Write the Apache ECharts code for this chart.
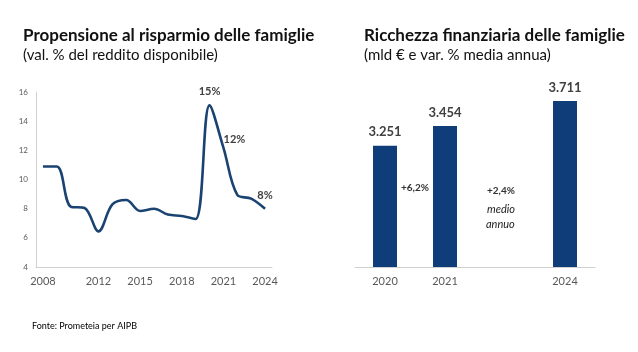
<!DOCTYPE html>
<html>
<head>
<meta charset="utf-8">
<script src="https://cdn.jsdelivr.net/npm/echarts@6/dist/echarts.min.js"></script>
<style>
html,body{margin:0;padding:0;background:#fff;}
#c{width:638px;height:352px;}
</style>
</head>
<body>
<div id="c"></div>
<script>
// Left chart: Propensione al risparmio (val. % del reddito disponibile)
var lineYears = ['2008','2009','2010','2011','2012','2013','2014','2015','2016','2017','2018','2019','2020','2021','2022','2023','2024'];
var lineValues = [10.9, 10.9, 8.15, 8.05, 6.45, 8.3, 8.6, 7.85, 8.0, 7.6, 7.5, 7.3, 15.1, 12.2, 8.95, 8.7, 8.0];
var lineShownYears = ['2008','2012','2015','2018','2021','2024'];
var lineLabels = {'2020':'15%','2021':'12%','2024':'8%'};
var lineYTicks = [4, 6, 8, 10, 12, 14, 16];

// Right chart: Ricchezza finanziaria (mld €)
var barYears = ['2020','2021','','2024'];
var barValues = [3251, 3454, null, 3711];
var barNotes = ['+6,2%', '+2,4%', 'medio', 'annuo'];

var FONT = 'Lato, "Liberation Sans", sans-serif';
var LINE_COLOR = '#1a4371';
var BAR_COLOR = '#0f3d7a';

function fmtThousands(v){
  var s = String(v);
  return s.replace(/\B(?=(\d{3})+(?!\d))/g, '.');
}

var chart = echarts.init(document.getElementById('c'), null, {renderer:'canvas'});
chart.setOption({
  backgroundColor:'#fff',
  animation:false,
  textStyle:{fontFamily:FONT},
  title:[
    {text:'Propensione al risparmio delle famiglie', subtext:'(val. % del reddito disponibile)', left:18, top:22,
     itemGap:4,
     textStyle:{fontFamily:FONT, fontSize:17, fontWeight:'bold', color:'#111'},
     subtextStyle:{fontFamily:FONT, fontSize:15, color:'#111'}},
    {text:'Ricchezza finanziaria delle famiglie', subtext:'(mld € e var. % media annua)', left:359, top:22,
     itemGap:4,
     textStyle:{fontFamily:FONT, fontSize:17, fontWeight:'bold', color:'#111'},
     subtextStyle:{fontFamily:FONT, fontSize:15, color:'#111'}},
    {text:'Fonte: Prometeia per AIPB', left:27, top:317,
     textStyle:{fontFamily:FONT, fontSize:9, fontWeight:'normal', color:'#000'}}
  ],
  grid:[
    {left:36, width:236, top:92.3, height:174.7, containLabel:false},
    {left:355, width:240, top:73, height:194, containLabel:false}
  ],
  xAxis:[
    {type:'category', gridIndex:0, data:lineYears, boundaryGap:true,
     axisLine:{lineStyle:{color:'#d0d0d0'}}, axisTick:{show:false},
     axisLabel:{color:'#595959', fontSize:11, margin:9,
       interval:function(i, v){ return lineShownYears.indexOf(v) >= 0; }}},
    {type:'category', gridIndex:1, data:barYears, boundaryGap:true,
     axisLine:{lineStyle:{color:'#d0d0d0'}}, axisTick:{show:false},
     axisLabel:{color:'#595959', fontSize:11, margin:9, interval:0}}
  ],
  yAxis:[
    {type:'value', gridIndex:0, min:lineYTicks[0], max:lineYTicks[lineYTicks.length-1], interval:2,
     axisLine:{show:true, lineStyle:{color:'#d0d0d0'}}, axisTick:{show:false},
     splitLine:{show:false},
     axisLabel:{color:'#595959', fontSize:8, margin:8}},
    {type:'value', gridIndex:1, min:2000, max:4000, show:false, splitLine:{show:false}}
  ],
  series:[
    {type:'line', xAxisIndex:0, yAxisIndex:0, data:lineValues, smooth:0.35,
     showSymbol:true, symbol:'circle', symbolSize:0, showAllSymbol:true,
     itemStyle:{color:LINE_COLOR},
     lineStyle:{color:LINE_COLOR, width:2.6},
     label:{show:true, position:'top', distance:8, fontSize:11, fontWeight:'bold', color:'#404040',
       formatter:function(p){ return lineLabels[p.name] || ''; }},
     labelLayout:function(p){
       var name = lineYears[p.dataIndex];
       if(name==='2021') return {dx:11, dy:5};
       return {};
     }
    },
    {type:'bar', xAxisIndex:1, yAxisIndex:1, data:barValues, barWidth:24,
     itemStyle:{color:BAR_COLOR},
     label:{show:true, position:'top', distance:7, fontSize:13, fontWeight:'bold', color:'#404040',
       formatter:function(p){ return p.value==null ? '' : fmtThousands(p.value); }}}
  ],
  graphic:[
    {type:'text', left:401, top:183, style:{text:barNotes[0], font:'bold 10px '+FONT, fill:'#333'}},
    {type:'text', left:487, top:186, style:{text:barNotes[1], font:'bold 10px '+FONT, fill:'#333'}},
    {type:'text', left:487, top:204, style:{text:barNotes[2], font:'italic 11px '+FONT, fill:'#222'}},
    {type:'text', left:486, top:219, style:{text:barNotes[3], font:'italic 11px '+FONT, fill:'#222'}}
  ]
});
</script>
</body>
</html>
